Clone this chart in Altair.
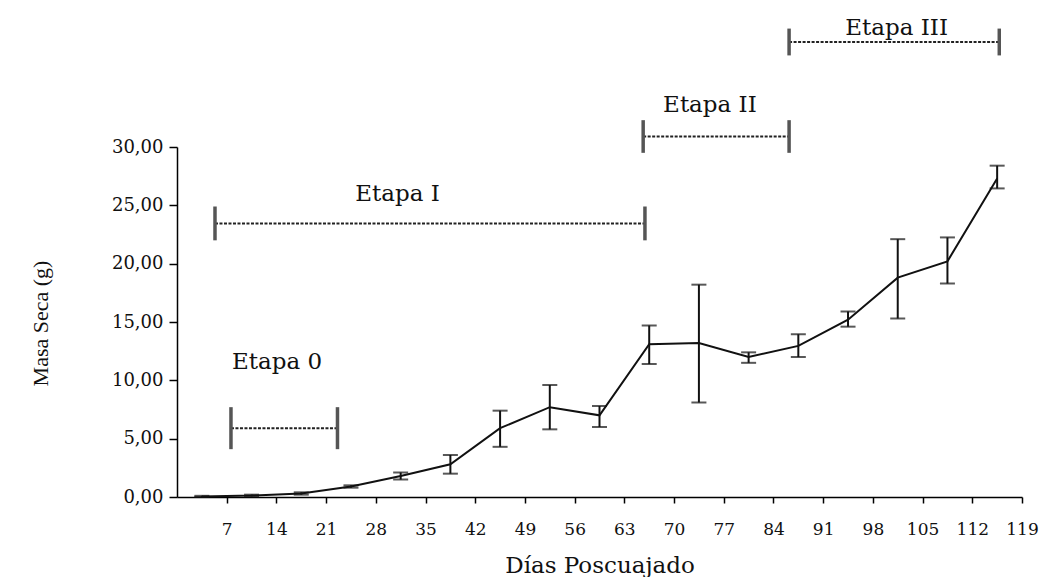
import altair as alt
import pandas as pd

# ---- data ----
days = [3.5, 10.5, 17.5, 24.5, 31.5, 38.5, 45.5, 52.5, 59.5, 66.5, 73.5, 80.5, 87.5, 94.5, 101.5, 108.5, 115.5]
masa = [0.05, 0.12, 0.30, 0.90, 1.80, 2.80, 5.90, 7.70, 7.00, 13.10, 13.20, 12.00, 12.95, 15.20, 18.80, 20.20, 27.30]
err_lo = [0.00, 0.05, 0.20, 0.80, 1.50, 2.00, 4.30, 5.80, 6.00, 11.40, 8.10, 11.50, 12.00, 14.60, 15.30, 18.30, 26.45]
err_hi = [0.10, 0.20, 0.40, 1.00, 2.10, 3.60, 7.40, 9.60, 7.80, 14.70, 18.20, 12.40, 13.95, 15.90, 22.10, 22.25, 28.40]

x_ticks = [7, 14, 21, 28, 35, 42, 49, 56, 63, 70, 77, 84, 91, 98, 105, 112, 119]
y_ticks = [0, 5, 10, 15, 20, 25, 30]

stage_names = ["Etapa 0", "Etapa I", "Etapa II", "Etapa III"]
stage_start = [7.6, 5.35, 65.65, 86.2]
stage_end = [22.6, 65.9, 86.2, 115.8]
stage_level = [5.9, 23.45, 30.9, 39.0]
stage_cap = [1.8, 1.45, 1.4, 1.15]
stage_label_x = [14.1, 31.05, 75.05, 101.35]
stage_label_y = [11.6, 26.0, 33.6, 40.2]

df = pd.DataFrame({"dia": days, "masa": masa, "lo": err_lo, "hi": err_hi})
st = pd.DataFrame({
    "name": stage_names,
    "start": stage_start,
    "end": stage_end,
    "level": stage_level,
    "cap_lo": [l - c for l, c in zip(stage_level, stage_cap)],
    "cap_hi": [l + c for l, c in zip(stage_level, stage_cap)],
    "lx": stage_label_x,
    "ly": stage_label_y,
})

SERIF = "DejaVu Serif"
xscale = alt.Scale(domain=[0, 119], nice=False, zero=False)
yscale = alt.Scale(domain=[0, 30], nice=False)

x_axis = alt.Axis(
    values=x_ticks, title="Días Poscuajado", tickSize=6, labelPadding=18,
    labelFontSize=17, titleFontSize=23, titleY=75, titleBaseline="alphabetic",
    labelFont=SERIF, titleFont=SERIF, titleFontWeight="normal",
    labelOverlap=False, labelFlush=False,
)
y_axis = alt.Axis(
    values=y_ticks, title="Masa Seca (g)", tickSize=8, labelPadding=6,
    labelFontSize=18, titleFontSize=22, labelFont=SERIF, titleFont="Liberation Serif",
    titleFontWeight="normal", titleX=-137, titleY=176, titleAngle=-90,
    titleBaseline="middle", titleAlign="center", labelOverlap=False,
    labelExpr="replace(format(datum.value, '.2f'), '.', ',')",
)


def X(field):
    return alt.X(field, scale=xscale, axis=x_axis)


def Y(field):
    return alt.Y(field, scale=yscale, axis=y_axis)


line = alt.Chart(df).mark_line(color="#111", strokeWidth=2).encode(
    x=X("dia:Q"), y=Y("masa:Q"),
)

bars = alt.Chart(df).mark_rule(color="#111", strokeWidth=2).encode(
    x=X("dia:Q"), y=Y("lo:Q"), y2="hi:Q",
)
cap_lo = alt.Chart(df).mark_tick(orient="horizontal", size=15, thickness=2, color="#111").encode(
    x=X("dia:Q"), y=Y("lo:Q"),
)
cap_hi = alt.Chart(df).mark_tick(orient="horizontal", size=15, thickness=2, color="#111").encode(
    x=X("dia:Q"), y=Y("hi:Q"),
)

stage_line = alt.Chart(st).mark_rule(color="#222", strokeWidth=2, strokeDash=[3, 1.5]).encode(
    x=X("start:Q"), x2="end:Q", y=Y("level:Q"),
)
stage_cap_a = alt.Chart(st).mark_rule(color="#555", strokeWidth=3.5).encode(
    x=X("start:Q"), y=Y("cap_lo:Q"), y2="cap_hi:Q",
)
stage_cap_b = alt.Chart(st).mark_rule(color="#555", strokeWidth=3.5).encode(
    x=X("end:Q"), y=Y("cap_lo:Q"), y2="cap_hi:Q",
)
stage_text = alt.Chart(st).mark_text(font=SERIF, fontSize=23, color="#111", baseline="middle", align="center").encode(
    x=X("lx:Q"), y=Y("ly:Q"), text="name:N",
)

chart = alt.layer(
    line, bars, cap_lo, cap_hi, stage_line, stage_cap_a, stage_cap_b, stage_text
).properties(
    width=845, height=350,
    padding={"left": 177, "top": 147, "right": 28, "bottom": 80},
    autosize=alt.AutoSizeParams(type="none"),
    background="white",
).configure_view(stroke=None).configure_axis(
    grid=False, domainColor="#000", tickColor="#000", labelColor="#111",
    titleColor="#111", domainWidth=1.5, tickWidth=1.5,
)

chart.save("out.html", embed_options={"renderer": "svg", "actions": False})
